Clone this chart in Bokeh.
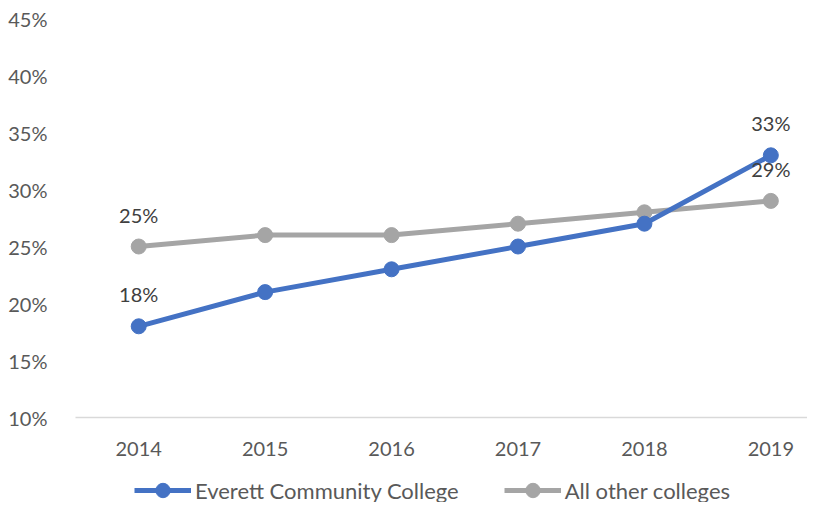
from bokeh.plotting import figure
from bokeh.layouts import column
from bokeh.core.properties import value
from bokeh.models import (ColumnDataSource, Range1d, FixedTicker, PrintfTickFormatter,
                          Legend, LegendItem, LabelSet)
from bokeh.embed import file_html
from bokeh.resources import INLINE

years = [2014, 2015, 2016, 2017, 2018, 2019]
year_labels = ["2014", "2015", "2016", "2017", "2018", "2019"]
everett = [18, 21, 23, 25, 27, 33]
others = [25, 26, 26, 27, 28, 29]
y_ticks = [10, 15, 20, 25, 30, 35, 40, 45]
series_names = ["Everett Community College", "All other colleges"]

BLUE = "#4472C4"
GRAY = "#A5A5A5"
FONT = "Lato"

p = figure(width=807, height=460, output_backend="svg", toolbar_location=None,
           x_range=Range1d(2013.5, 2019.29), y_range=Range1d(10, 45),
           min_border_left=75, min_border_right=0, min_border_top=18, min_border_bottom=43)
p.outline_line_color = None
p.xgrid.visible = False
p.ygrid.visible = False

src_e = ColumnDataSource(dict(x=years, y=everett))
src_o = ColumnDataSource(dict(x=years, y=others))

p.line("x", "y", source=src_o, line_color=GRAY, line_width=5)
p.scatter("x", "y", source=src_o, size=15, fill_color=GRAY, line_color=GRAY)
p.line("x", "y", source=src_e, line_color=BLUE, line_width=5)
p.scatter("x", "y", source=src_e, size=15, fill_color=BLUE, line_color=BLUE)

idx = [0, len(years) - 1]
lab = ColumnDataSource(dict(
    x=[years[i] for i in idx] + [years[i] for i in idx],
    y=[everett[i] for i in idx] + [others[i] for i in idx],
    t=[f"{everett[i]}%" for i in idx] + [f"{others[i]}%" for i in idx],
))
p.add_layout(LabelSet(x="x", y="y", text="t", source=lab, y_offset=32,
                      text_align="center", text_baseline="middle",
                      text_font=value(FONT), text_font_size=value("20px"),
                      text_color="#404040"))

# axes
p.yaxis.ticker = FixedTicker(ticks=y_ticks)
p.yaxis.formatter = PrintfTickFormatter(format="%d%%")
p.yaxis.axis_line_color = None
p.yaxis.major_tick_line_color = None
p.yaxis.minor_tick_line_color = None
p.yaxis.major_label_standoff = 22
p.yaxis.major_label_text_font = FONT
p.yaxis.major_label_text_font_size = "20px"
p.yaxis.major_label_text_color = "#595959"

p.xaxis.ticker = FixedTicker(ticks=years)
p.xaxis.major_label_overrides = {y: s for y, s in zip(years, year_labels)}
p.xaxis.axis_line_color = "#D9D9D9"
p.xaxis.axis_line_width = 1.5
p.xaxis.major_tick_line_color = None
p.xaxis.minor_tick_line_color = None
p.xaxis.major_label_standoff = 18
p.xaxis.major_label_text_font = FONT
p.xaxis.major_label_text_font_size = "20px"
p.xaxis.major_label_text_color = "#595959"

# legend strip (same series, drawn outside its visible range so only the legend shows)
lg = figure(width=807, height=42, output_backend="svg", toolbar_location=None,
            x_range=Range1d(2013.5, 2019.29), y_range=Range1d(0, 1),
            min_border_left=0, min_border_right=0, min_border_top=0, min_border_bottom=0)
lg.outline_line_color = None
lg.axis.visible = False
lg.grid.visible = False
le = lg.line("x", "y", source=src_e, line_color=BLUE, line_width=5)
se = lg.scatter("x", "y", source=src_e, size=15, fill_color=BLUE, line_color=BLUE)
lo = lg.line("x", "y", source=src_o, line_color=GRAY, line_width=5)
so = lg.scatter("x", "y", source=src_o, size=15, fill_color=GRAY, line_color=GRAY)

legend = Legend(items=[
    LegendItem(label=series_names[0], renderers=[le, se]),
    LegendItem(label=series_names[1], renderers=[lo, so]),
], orientation="horizontal", location=(59, -6),
    glyph_width=57, glyph_height=36, label_standoff=4, spacing=45,
    label_text_font=FONT, label_text_font_size="22px", label_text_color="#595959",
    border_line_color=None, background_fill_alpha=0, margin=0, padding=0)
lg.add_layout(legend, "center")

layout = column(p, lg, spacing=0)
open("out.html", "w").write(file_html(layout, INLINE))
